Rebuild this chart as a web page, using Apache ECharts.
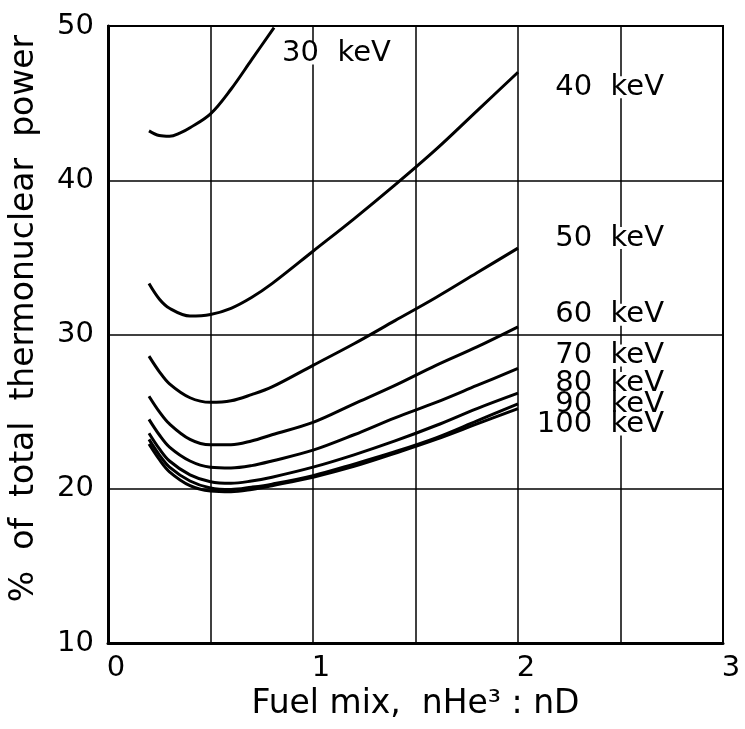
<!DOCTYPE html>
<html>
<head>
<meta charset="utf-8">
<script src="https://cdn.jsdelivr.net/npm/echarts@6/dist/echarts.min.js"></script>
<style>
  html, body { margin: 0; padding: 0; background: #fff; }
</style>
</head>
<body>
<div id="main" style="width:745px;height:729px;"></div>
<script>
// fuel mix values (nHe3 : nD)
var mix30 = [0.2, 0.25, 0.3, 0.35, 0.4, 0.5, 0.6, 0.7, 0.81];
var mix = [0.2, 0.25, 0.3, 0.4, 0.5, 0.6, 0.7, 0.8, 1.0, 1.2, 1.4, 1.6, 1.8, 2.0];

// % of total thermonuclear power, one list per temperature
var kev30  = [43.2, 42.9, 42.85, 43.05, 43.4, 44.3, 45.9, 47.8, 49.9];
var kev40  = [33.3, 32.3, 31.7, 31.2, 31.3, 31.7, 32.4, 33.3, 35.4, 37.5, 39.7, 42.0, 44.5, 47.0];
var kev50  = [28.6, 27.6, 26.8, 25.9, 25.6, 25.7, 26.1, 26.6, 28.0, 29.4, 30.9, 32.4, 34.0, 35.6];
var kev60  = [26.0, 25.0, 24.2, 23.2, 22.85, 22.85, 23.1, 23.5, 24.3, 25.5, 26.7, 28.0, 29.2, 30.5];
var kev70  = [24.5, 23.5, 22.7, 21.8, 21.4, 21.35, 21.5, 21.8, 22.5, 23.5, 24.6, 25.6, 26.7, 27.8];
var kev80  = [23.6, 22.6, 21.8, 20.9, 20.45, 20.35, 20.5, 20.75, 21.4, 22.2, 23.1, 24.1, 25.2, 26.2];
var kev90  = [23.2, 22.2, 21.4, 20.5, 20.05, 19.95, 20.1, 20.3, 20.85, 21.6, 22.4, 23.3, 24.4, 25.5];
var kev100 = [22.9, 21.9, 21.1, 20.2, 19.85, 19.8, 19.95, 20.2, 20.75, 21.45, 22.3, 23.2, 24.2, 25.2];

var curveNames = ['30  keV', '40  keV', '50  keV', '60  keV', '70  keV', '80  keV', '90  keV', '100  keV'];
var curveX = [mix30, mix, mix, mix, mix, mix, mix, mix];
var curveY = [kev30, kev40, kev50, kev60, kev70, kev80, kev90, kev100];

// label nudges (px) so the names sit where the original put them
var labelAlign = ['left', 'right', 'right', 'right', 'right', 'right', 'right', 'right'];
var labelOffset = [[-2, 26], [140, 15], [140, -10], [140, -12], [140, -13], [140, -10], [140, 1], [140, 16]];

var font = 'DejaVu Sans';

function pairs(xs, ys) {
  var out = [];
  for (var i = 0; i < xs.length; i++) out.push([xs[i], ys[i]]);
  return out;
}

var series = [];
for (var i = 0; i < curveNames.length; i++) {
  series.push({
    name: curveNames[i],
    type: 'line',
    data: pairs(curveX[i], curveY[i]),
    smooth: 0.35,
    symbol: 'none',
    lineStyle: { color: '#000', width: 3 },
    endLabel: {
      show: true,
      formatter: '{a}',
      fontFamily: font,
      fontSize: 29,
      lineHeight: 22,
      color: '#000',
      backgroundColor: '#fff',
      padding: [0, 2],
      align: labelAlign[i],
      verticalAlign: 'middle',
      offset: labelOffset[i]
    }
  });
}

var myChart = echarts.init(document.getElementById('main'));
myChart.setOption({
  animation: false,
  backgroundColor: '#fff',
  grid: {
    left: 108, right: 22, top: 26, bottom: 86,
    show: true, borderColor: '#000', borderWidth: 2
  },
  xAxis: {
    type: 'value',
    min: 0, max: 3, interval: 0.5,
    name: 'Fuel mix,  nHe³ : nD',
    nameLocation: 'middle',
    nameGap: 40,
    nameTextStyle: { fontFamily: font, fontSize: 33, color: '#000' },
    axisLine: { show: true, lineStyle: { color: '#000', width: 3 } },
    axisTick: { show: false },
    splitLine: { show: true, lineStyle: { color: '#000', width: 1.5 } },
    axisLabel: {
      fontFamily: font, fontSize: 29, color: '#000', margin: 11,
      padding: [0, 0, 0, 16],
      formatter: function (v) { return v % 1 === 0 ? String(v) : ''; }
    }
  },
  yAxis: {
    type: 'value',
    min: 10, max: 50, interval: 10,
    name: '%  of  total  thermonuclear  power',
    nameLocation: 'middle',
    nameGap: 67,
    nameTextStyle: { fontFamily: font, fontSize: 33, color: '#000', padding: [0, 0, 0, 32] },
    axisLine: { show: true, lineStyle: { color: '#000', width: 3 } },
    axisTick: { show: false },
    splitLine: { show: true, lineStyle: { color: '#000', width: 1.5 } },
    axisLabel: { fontFamily: font, fontSize: 29, color: '#000', margin: 14 }
  },
  series: series
});
</script>
</body>
</html>
